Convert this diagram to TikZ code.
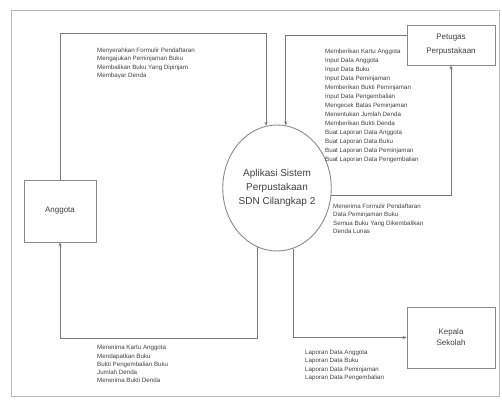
\documentclass[tikz,border=0pt]{standalone}
\usepackage{fontspec}
\setmainfont{Liberation Sans}
\usetikzlibrary{arrows.meta,shapes.geometric}
\definecolor{linec}{HTML}{787878}
\definecolor{boxc}{HTML}{8A8A8A}
\definecolor{framec}{HTML}{B8B8B8}
\definecolor{txtc}{HTML}{404040}
\tikzset{
  ent/.style={draw=boxc, line width=0.9pt, fill=white, align=center, text=txtc, inner sep=1pt},
  proc/.style={ellipse, draw=boxc, line width=0.9pt, fill=white, align=center, text=txtc, inner sep=0pt,
    font=\fontsize{10}{14}\selectfont},
  flow/.style={draw=linec, line width=0.7pt, -{Stealth[length=4pt,width=3.2pt]}},
  lbl/.style={anchor=north west, inner sep=0pt, align=left, text=txtc, font=\fontsize{6.2}{8.3}\selectfont},
  lblw/.style={anchor=north west, inner sep=0pt, align=left, text=txtc, font=\fontsize{6.2}{9}\selectfont}
}
\begin{document}
\begin{tikzpicture}[x=1pt,y=-1pt]
\useasboundingbox (0,0) rectangle (502,399);
\draw[framec, line width=1pt] (11,10) rectangle (499,396);

\node[ent, minimum width=72pt, minimum height=62pt, font=\fontsize{8}{11}\selectfont] (ang) at (60,211) {Anggota};
\node[ent, minimum width=88pt, minimum height=40pt, font=\fontsize{8}{14}\selectfont] (pet) at (451,45) {Petugas\\Perpustakaan};
\node[ent, minimum width=88pt, minimum height=61pt, font=\fontsize{8}{11}\selectfont] (kep) at (451,337.5) {Kepala\\Sekolah};
\node[proc, minimum width=104pt, minimum height=126pt] (sys) at (277,188) {Aplikasi Sistem\\Perpustakaan\\SDN Cilangkap 2};

\coordinate (ytop) at (0,33);
\coordinate (ypet) at (0,35);
\coordinate (ybot) at (0,338);

% Anggota -> system (top)
\draw[flow] (ang.north) -- (ang.north |- ytop) -- (ytop -| sys.100) -- (sys.100);
% Petugas -> system
\draw[flow] (pet.west |- ypet) -- (ypet -| sys.82) -- (sys.82);
% system -> Petugas
\draw[flow] (sys.-8) -- (sys.-8 -| pet.south) -- (pet.south);
% system -> Anggota (bottom)
\draw[flow] (sys.252) -- (sys.252 |- ybot) -- (ybot -| ang.south) -- (ang.south);
% system -> Kepala Sekolah
\draw[flow] (sys.-75) |- (kep.west);

\node[lbl] (l1) at (97,48) {Menyerahkan Formulir Pendaftaran\\Mengajukan Peminjaman Buku\\Membalikan Buku Yang Dipinjam\\Membayar Denda};
\node[lblw] (l2) at (325,49) {Memberikan Kartu Anggota\\Input Data Anggota\\Input Data Buku\\Input Data Peminjaman\\Memberikan Bukti Peminjaman\\Input Data Pengembalian\\Mengecek Batas Peminjaman\\Menentukan Jumlah Denda\\Memberikan Bukti Denda\\Buat Laporan Data Anggota\\Buat Laporan Data Buku\\Buat Laporan Data Peminjaman\\Buat Laporan Data Pengembalian};
\node[lbl] (l3) at (333,204) {Menerima Formulir Pendaftaran\\Data Peminjaman Buku\\Semua Buku Yang Dikembalikan\\Denda Lunas};
\node[lbl] (l4) at (97,345) {Menerima Kartu Anggota\\Mendapatkan Buku\\Bukti Pengembalian Buku\\Jumlah Denda\\Menerima Bukti Denda};
\node[lbl] (l5) at (305,350) {Laporan Data Anggota\\Laporan Data Buku\\Laporan Data Peminjaman\\Laporan Data Pengembalian};
\end{tikzpicture}
\end{document}
